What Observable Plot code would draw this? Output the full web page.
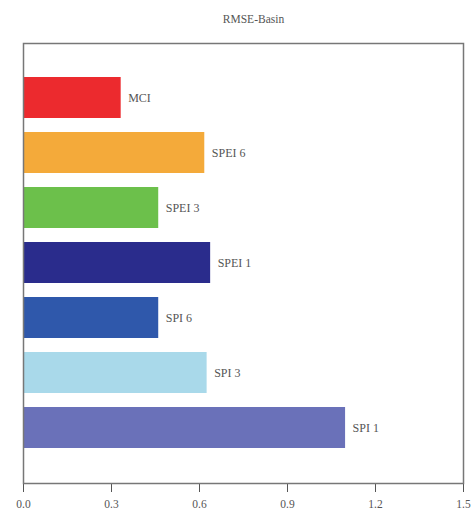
<!DOCTYPE html>
<html>
<head>
<meta charset="utf-8">
<script src="https://cdn.jsdelivr.net/npm/d3@7"></script>
<script src="https://cdn.jsdelivr.net/npm/@observablehq/plot@0.6"></script>
<style>
  html, body { margin: 0; padding: 0; background: #fff; }
  #chart svg { display: block; }
</style>
</head>
<body>
<div id="chart"></div>
<script>
// RMSE per drought index, basin scale
const indices = ["MCI", "SPEI 6", "SPEI 3", "SPEI 1", "SPI 6", "SPI 3", "SPI 1"];
const rmse    = [0.333, 0.618, 0.461, 0.638, 0.461, 0.626, 1.098];
const colors  = ["#ec2a2e", "#f4aa3a", "#6cc04b", "#2a2c8c", "#2f58ab", "#a9d9ea", "#6a71b9"];
const xTicks  = [0.0, 0.3, 0.6, 0.9, 1.2, 1.5];
const title   = "RMSE-Basin";

const rows = indices.map((name, i) => ({name, value: rmse[i], color: colors[i]}));
const serif = "'Liberation Serif', 'DejaVu Serif', serif";

const chart = Plot.plot({
  width: 474,
  height: 517,
  marginLeft: 23,
  marginRight: 11,
  marginTop: 43,
  marginBottom: 34,
  style: {fontFamily: serif, fontSize: "11.5px", color: "#555", background: "#fff"},
  x: {domain: [0, 1.5], ticks: xTicks, tickFormat: d3.format(".1f"), tickSize: 9, tickPadding: 7, label: null},
  y: {domain: indices, padding: 0.25, paddingOuter: 0.625, axis: null},
  marks: [
    Plot.barX(rows, {x: "value", y: "name", fill: "color", inset: 0}),
    Plot.text(rows, {x: "value", y: "name", text: "name", textAnchor: "start", dx: 7, fill: "#555", fontSize: 12}),
    Plot.frame({stroke: "#777", strokeWidth: 1.5}),
    Plot.text([title], {frameAnchor: "top", dy: -29, dx: 10, fill: "#555", fontSize: 11.5})
  ]
});
document.getElementById("chart").appendChild(chart);
</script>
</body>
</html>
